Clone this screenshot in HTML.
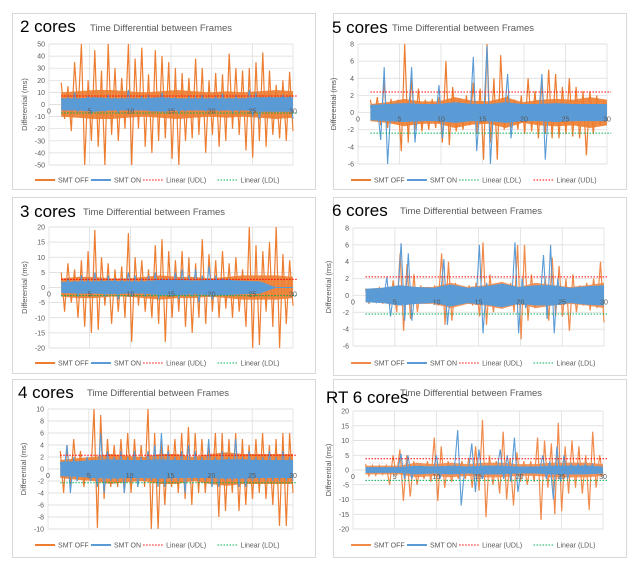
<!DOCTYPE html>
<html><head><meta charset="utf-8"><style>
html,body{margin:0;padding:0;background:#fff;}
svg{display:block;font-family:"Liberation Sans",sans-serif;}
</style></head><body>
<svg id="root" width="640" height="570" viewBox="0 0 640 570"></svg>
<script>
// ---- data arrays ----
const xTicks = [0,5,10,15,20,25,30];
const c2Ticks = [-50,-40,-30,-20,-10,0,10,20,30,40,50];
const c3Ticks = [-20,-15,-10,-5,0,5,10,15,20];
const c4Ticks = [-10,-8,-6,-4,-2,0,2,4,6,8,10];
const c5Ticks = [-6,-4,-2,0,2,4,6,8];
const c6Ticks = [-6,-4,-2,0,2,4,6,8];
const rtTicks = [-20,-15,-10,-5,0,5,10,15,20];

// spike traces
const c2Off = [18,-12,15,-22,35,-8,50,-50,20,-30,45,-35,28,-50,50,-25,30,-30,22,-20,50,-50,38,-20,47,-35,25,-40,45,-30,40,-28,35,-45,30,-50,26,-30,22,-28,38,-25,30,-40,20,-25,26,-35,25,-30,42,-20,30,-25,28,-38,30,-44,35,-30,43,-35,28,-25,16,-28,20,-30,27,-22];
const c2On = [5,-4,6,-5,10,-6,4,-5,7,-8,5,-4,6,-6,8,-5,6,-7,5,-4,12,-6,5,-5,7,-4,8,-6,6,-5,10,-7,5,-4,6,-8,5,-6,7,-5,6,-4,8,-6,5,-5,7,-6,9,-5,6,-7,8,-6,5,-4,12,-10,10,-12,6,-5,7,-6,5,-4,8,-6,7,-12];
const c2OffBand = [10,11,12,12,11,10,11,12,11,10,11,10,11,12,11];
const c2OnBand = [5,5,6,5,5,5,6,5,5,5,5,5,6,6,6];
const c2Udl = [7];
const c2Ldl = [-7];

const c3Off = [5,-8,8,-5,6,-10,9,-13,12,-15,19,-14,10,-6,8,-12,6,-8,7,-10,18,-18,10,-6,9,-8,6,-10,14,-12,16,-18,12,-10,9,-8,12,-13,10,-15,8,-10,16,-12,11,-8,9,-10,12,-7,8,-10,10,-8,6,-13,20,-20,14,-19,12,-8,15,-13,20,-20,11,-12,9,-6];
const c3On = [2,-2,3,-1,2,-3,4,-2,3,-2,5,-2,3,-3,4,-2,3,-4,3,-2,5,-3,4,-2,3,-3,4,-3,5,-4,3,-2,3,-3,5,-4,6,-3,4,-3,6,-5,4,-3,7,-4,4,-2,3,-2,3,-1,0,0,0,0,0,0,0,0,0,0,0,0,0,0,0,0,0,0];
const c3OffBand = [3,3.5,3.5,3,3,3.5,4,3.5,3.5,3,3.5,4,4,4,3.5];
const c3OnBand = [1.8,2,2,2.2,2,2,2.5,2.5,2.2,2.5,2.5,2.2,2,0,0];
const c3Udl = [2.7];
const c3Ldl = [-2.7];

const c4Off = [3,-4,4,-3,5,-2,3,-3,2,-2,10,-9.8,9,-5,5,-3,4,-3,5,-4,6,-4,5,-3,4,-3,10,-10,6,-10,5,-6,4,-3,5,-4,6,-5,7,-6,6,-4,5,-4,4,-3,6,-8,6,-7,5,-4,6,-7,5,-6,4,-5,5,-4,6,-5,4,-6,5,-9.5,6,-9.5,6,-4];
const c4On = [1,-1,4,-4,2,-2,1,-1,2,-2,1,-3,6,-4,3,-2,2,-2,3,-4,2,-2,3,-3,2,-2,3,-2,4,-3,6,-3,3,-2,2,-2,3,-4,4,-2,3,-2,2,-2,5,-3,2,-3,3,-2,2,-2,5,-3,2,-3,3,-2,2,-2,2,-2,3,-2,2,-2,3,-2,2,-2];
const c4OffBand = [1.5,1.8,2,2.5,2.2,2,2.5,2.5,2,2.5,2.8,2.5,2.5,2.5,2.5];
const c4OnBand = [1.2,1.3,1.5,1.6,1.5,1.5,1.6,1.5,1.5,1.5,1.6,1.6,1.5,1.5,1.5];
const c4Udl = [2.3];
const c4Ldl = [-2.3];

const c5Off = [1.5,-1,1.8,-1.5,3.5,-1.8,1.6,-1.2,1.5,-4.5,8,-3.5,4,-2,2.8,-2.2,1.5,-2,1.6,-1.8,1.8,-3.5,6,-3.8,3,-2.2,1.5,-2,2,-1.5,3.5,-2.5,2.8,-5.5,8,-3.5,4,-5.5,6.7,-2,2,-1.8,1.5,-2,2,-2.5,4,-2.2,2.5,-3,4,-2.5,5,-3,4.5,-3,3,-2.5,4,-2.8,3,-3,2.5,-5,2.5,-2.5,2,-1.5,1.5,-1];
const c5On = [0.8,-0.8,0.8,-3.2,5.3,-6,0.8,-0.8,0.8,-0.8,1,-1,5.3,-3.5,1,-1,0.8,-0.8,1,-0.8,3.2,-3,1,-0.8,0.8,-0.8,0.8,-0.8,1,-0.8,6.5,-4.5,1,-0.8,7.8,-6,1,-0.8,0.8,-0.8,4.5,-3,1,-0.8,0.8,-1,0.8,-0.8,0.8,-1,4.5,-5.5,1,-0.8,0.8,-0.8,0.8,-0.8,0.8,-0.8,0.8,-0.8,0.8,-0.8,0.8,-0.8,0.8,-0.8,0.8,-0.8];
const c5OffBand = [1,1.2,1.6,1.3,1.3,1.8,1.4,1.3,1.8,1.2,1.5,1.6,1.5,1.8,1.5];
const c5OnBand = [0.9,1,1.1,1,1,1.2,1,1,1.2,1,1,1.1,1,1,1];
const c5Udl = [2.4];
const c5Ldl = [-2.4];

const c6Off = [0.8,-1,0.8,-0.8,1,-1,0.8,-1.2,1.8,-2,5,-4.2,3.7,-2.8,2.5,-2,1.2,-1,1,-0.8,1.2,-1.2,5,-3.5,4,-3,1.5,-1,1,-1,1.2,-1.2,1.5,-2.5,6.3,-3.5,2.5,-2,1.2,-1,1,-1,1.5,-2,6,-5.2,6,-3,2.5,-1.5,1,-1,2,-3,4.5,-2.5,3.5,-2.5,2,-4.2,2.5,-2,1.2,-1.2,1.5,-1.8,2,-1.5,4,-3.2];
const c6On = [0.6,-0.8,0.6,-0.8,0.6,-0.6,2.2,-2.5,0.6,-0.6,6.2,-3,5,-3,0.8,-0.8,0.6,-0.6,0.6,-0.6,0.6,-0.6,4.3,-3.5,1,-0.8,0.6,-0.6,0.6,-0.8,1,-1,6,-4.5,1.5,-1,0.6,-0.6,0.8,-0.6,0.8,-1,6.3,-4.5,2,-1.5,0.8,-0.6,0.6,-1,4.8,-2.8,6,-4.5,2,-1,0.6,-0.6,0.6,-0.6,1,-0.8,0.6,-0.6,0.8,-0.6,0.8,-0.6];
const c6OffBand = [0.8,0.9,1.2,1,1,1.5,1,1.2,1.6,1,1.5,1.2,1,1.2,1.5];
const c6OnBand = [0.8,0.9,1.2,1,0.9,1.3,0.9,1.1,1.4,1,1.2,1.2,0.9,1.1,1.2];
const c6Udl = [2.2];
const c6Ldl = [-2.2];

const rtOff = [2,-2,1.5,-1.8,1.5,-1.5,1.5,-5,5,-2,7,-10.5,5,-9,3,-5,2,-3,3,-4,11,-10.5,8,-6,3,-4,2,-3,3,-3,4,-6,8,-7,17,-16,5,-5,3,-8,13,-10,4,-12,6,-4,3,-5,3,-4,11,-17,10,-6,9,-15,16,-14,8,-8,10,-6,8,-8,5,-13.5,13,-6,5,-2];
const rtOn = [0.8,-0.8,0.8,-0.8,0.8,-0.8,0.8,-0.8,1,-1,5.5,-3,5,-3,1,-1,0.8,-0.8,1,-0.8,5,-3,1,-1,1,-0.8,13.5,-12,1,-0.8,9,-7.5,7,-3,1,-1,1,-0.8,7,-3,5,-4,11,-7.5,1,-1,0.8,-0.8,1,-0.8,5,-3,3,-10,8,-4,5,-3,2,-1,2,-1,2,-1,2,-1,1,-1];
const rtOffBand = [1.5,1.5,1.5,2.5,2,2.5,2,2.5,2.5,2,2,2.5,2.5,2.5,2];
const rtOnBand = [1,1,1,1.5,1.2,1.5,1.2,1.5,1.5,1.2,1.2,1.5,1.5,1.5,1.2];
const rtUdl = [3.8];
const rtLdl = [-3.5];

// ---- rendering ----
const NS = "http://www.w3.org/2000/svg";
const root = document.getElementById('root');
function el(tag, attrs, parent){
  const e = document.createElementNS(NS, tag);
  for (const k in attrs) e.setAttribute(k, attrs[k]);
  (parent||root).appendChild(e);
  return e;
}

const panels = [
  {key:'2-cores', title:'2 cores', box:[12,13,303,176], x0:49, x1:293, yT:44, yB:165, ticks:c2Ticks, off:c2Off, on:c2On, offBand:c2OffBand, onBand:c2OnBand, udl:c2Udl, ldl:c2Ldl, legY:180, titleX:20, titleY:32, subX:90, subY:31, udlFirst:true, offCol:'#ED7D31'},
  {key:'3-cores', title:'3 cores', box:[12,197,303,176], x0:49, x1:293, yT:227, yB:348, ticks:c3Ticks, off:c3Off, on:c3On, offBand:c3OffBand, onBand:c3OnBand, udl:c3Udl, ldl:c3Ldl, legY:363, titleX:20, titleY:217, subX:83, subY:215, udlFirst:true, offCol:'#ED7D31'},
  {key:'4-cores', title:'4 cores', box:[12,379,303,178], x0:48, x1:293, yT:409, yB:529, ticks:c4Ticks, off:c4Off, on:c4On, offBand:c4OffBand, onBand:c4OnBand, udl:c4Udl, ldl:c4Ldl, legY:545, titleX:18, titleY:398, subX:87, subY:396, udlFirst:true, offCol:'#ED7D31'},
  {key:'5-cores', title:'5 cores', box:[333,13,293,176], x0:358, x1:607, yT:44, yB:164, ticks:c5Ticks, off:c5Off, on:c5On, offBand:c5OffBand, onBand:c5OnBand, udl:c5Udl, ldl:c5Ldl, legY:180, titleX:332, titleY:33, subX:392, subY:31, udlFirst:false, offCol:'#ED7D31'},
  {key:'6-cores', title:'6 cores', box:[333,197,293,178], x0:353, x1:604, yT:228, yB:346, ticks:c6Ticks, off:c6Off, on:c6On, offBand:c6OffBand, onBand:c6OnBand, udl:c6Udl, ldl:c6Ldl, legY:363, titleX:332, titleY:216, subX:400, subY:214, udlFirst:true, offCol:'#F08A4B'},
  {key:'rt-6-cores', title:'RT 6 cores', box:[333,379,293,178], x0:353, x1:603, yT:411, yB:529, ticks:rtTicks, off:rtOff, on:rtOn, offBand:rtOffBand, onBand:rtOnBand, udl:rtUdl, ldl:rtLdl, legY:545, titleX:326, titleY:403, subX:400, subY:396, udlFirst:true, offCol:'#F08A4B'}
];

panels.forEach(p=>{
  const g = el('g', {});
  
  
  const bx = el('rect', {x:p.box[0]+0.5, y:p.box[1]+0.5, width:p.box[2], height:p.box[3], fill:'#fff', stroke:'#d9d9d9'}, g);
  
  
  const tmin = p.ticks[0], tmax = p.ticks[p.ticks.length-1];
  const sy = v => p.yB - (v - tmin)/(tmax - tmin)*(p.yB - p.yT);
  const sx = t => p.x0 + t/30*(p.x1 - p.x0);
  p.ticks.forEach(t=>{
    const ln = el('line', {x1:p.x0, x2:p.x1, y1:sy(t), y2:sy(t), stroke:'#d9d9d9', 'stroke-width':0.7}, g);
    
    
    const tl = el('text', {x:p.x0-4, y:sy(t)+2.5, 'text-anchor':'end', 'font-size':7, fill:'#595959'}, g);
    tl.textContent = t;
    
    
  });
  xTicks.forEach(t=>{
    const ln = el('line', {x1:sx(t), x2:sx(t), y1:p.yT, y2:p.yB, stroke:'#d9d9d9', 'stroke-width':0.7}, g);
    
    
  });
  const yt = el('text', {x:0, y:0, 'text-anchor':'middle', 'font-size':7.5, fill:'#595959', transform:`translate(${p.x0-22},${(p.yT+p.yB)/2}) rotate(-90)`}, g);
  yt.textContent = 'Differential (ms)';
  
  
  function band(arr, color, name, op){
    const n = arr.length;
    const top = [], bot = [];
    arr.forEach((v,i)=>{
      const x = sx(1.5 + i*28.5/(n-1)).toFixed(1);
      top.push(x + ',' + sy(v).toFixed(1));
      bot.unshift(x + ',' + sy(-v).toFixed(1));
    });
    const pg = el('polygon', {points:top.concat(bot).join(' '), fill:color, 'fill-opacity':op, stroke:'none'}, g);
    
    
  }
  function series(arr, color, name, w){
    const n = arr.length;
    const pts = arr.map((v,i)=> sx(1.5 + i*28.5/(n-1)).toFixed(1) + ',' + sy(v).toFixed(1)).join(' ');
    const pl = el('polyline', {points:pts, fill:'none', stroke:color, 'stroke-width':w}, g);
    
    
  }
  band(p.offBand, p.offCol, 'band-smt-off', 0.9);
  series(p.off, p.offCol, 'series-smt-off', 1.2);
  band(p.onBand, '#5B9BD5', 'band-smt-on', 1);
  series(p.on, '#5B9BD5', 'series-smt-on', 1.1);
  const u = el('line', {x1:sx(1.5), x2:sx(30.5), y1:sy(p.udl[0]), y2:sy(p.udl[0]), stroke:'#FF0000', 'stroke-width':1, 'stroke-dasharray':'1.5,1.5'}, g);
  
  
  const l = el('line', {x1:sx(1.5), x2:sx(30.5), y1:sy(p.ldl[0]), y2:sy(p.ldl[0]), stroke:'#00B050', 'stroke-width':1, 'stroke-dasharray':'1.5,1.5'}, g);
  
  
  xTicks.forEach(t=>{
    const tl = el('text', {x:sx(t), y:sy(0)+9, 'text-anchor':'middle', 'font-size':7, fill:'#595959'}, g);
    tl.textContent = t;
    
    
  });
  const tt = el('text', {x:p.titleX, y:p.titleY, 'font-size':17, fill:'#000'}, g);
  tt.textContent = p.title;
  
  
  const st = el('text', {x:p.subX, y:p.subY, 'font-size':9.5, fill:'#595959'}, g);
  st.textContent = 'Time Differential between Frames';
  
  
  const items = [['SMT OFF', p.offCol, false], ['SMT ON', '#5B9BD5', false]];
  const udlI = ['Linear (UDL)', '#FF0000', true], ldlI = ['Linear (LDL)', '#00B050', true];
  if (p.udlFirst) items.push(udlI, ldlI); else items.push(ldlI, udlI);
  const widths = items.map(it => 22 + it[0].length*3.7 + 8);
  const total = widths.reduce((a,b)=>a+b,0);
  let lx = p.box[0] + p.box[2]/2 - total/2;
  items.forEach((it,i)=>{
    const li = el('g', {}, g);
    
    
    el('line', {x1:lx, x2:lx+20, y1:p.legY, y2:p.legY, stroke:it[1], 'stroke-width':it[2]?1:2, 'stroke-dasharray':it[2]?'1.5,1.5':'none'}, li);
    const tx = el('text', {x:lx+23, y:p.legY+2.5, 'font-size':7, fill:'#595959'}, li);
    tx.textContent = it[0];
    lx += widths[i];
  });
});
</script>
</body></html>
